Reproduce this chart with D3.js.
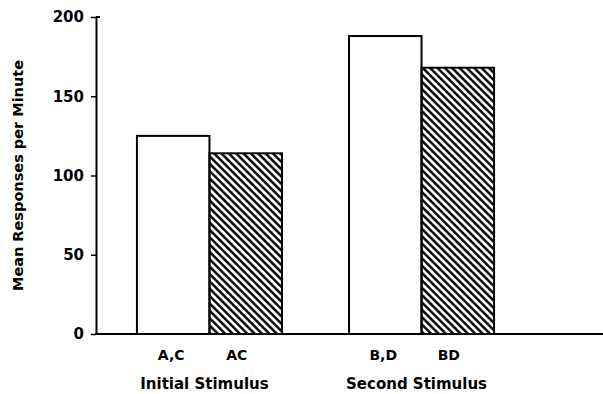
<!DOCTYPE html>
<html>
<head>
<meta charset="utf-8">
<script src="https://cdn.jsdelivr.net/npm/d3@7"></script>
<style>
  body { margin: 0; background: #fff; }
  svg { display: block; }
  text { font-family: "DejaVu Sans", sans-serif; font-weight: bold; fill: #000; }
</style>
</head>
<body>
<svg width="603" height="394"></svg>
<script>
// data
var groups = ["Initial Stimulus", "Second Stimulus"];
var barLabels = [["A,C", "AC"], ["B,D", "BD"]];
var separateValues = [125, 188];   // open bars
var compoundValues = [114, 168];   // hatched bars
var yTicks = [0, 50, 100, 150, 200];

var svg = d3.select("svg");
var margin = {top: 17, left: 96, bottom: 60, right: 0};
var y0 = 334;

var y = d3.scaleLinear()
    .domain([0, 200])
    .range([y0, margin.top]);

var x = d3.scaleBand()
    .domain(groups)
    .range([margin.left, 535])
    .paddingInner(0.316)
    .paddingOuter(0.193);

var xi = d3.scaleBand()
    .domain([0, 1])
    .range([0, x.bandwidth()]);

// hatch pattern
var defs = svg.append("defs");
defs.append("pattern")
    .attr("id", "hatch")
    .attr("patternUnits", "userSpaceOnUse")
    .attr("width", 5.2)
    .attr("height", 10)
    .attr("patternTransform", "rotate(-45)")
  .append("line")
    .attr("x1", 1.3).attr("y1", 0)
    .attr("x2", 1.3).attr("y2", 10)
    .attr("stroke", "#000")
    .attr("stroke-width", 2.4);

var data = [];
groups.forEach(function(g, i) {
    data.push({group: g, k: 0, value: separateValues[i], label: barLabels[i][0]});
    data.push({group: g, k: 1, value: compoundValues[i], label: barLabels[i][1]});
});

// bars
svg.selectAll("rect.bar")
    .data(data)
    .enter()
    .append("rect")
    .attr("class", "bar")
    .attr("x", function(d) { return x(d.group) + xi(d.k); })
    .attr("y", function(d) { return y(d.value); })
    .attr("width", xi.bandwidth())
    .attr("height", function(d) { return y(0) - y(d.value); })
    .attr("fill", function(d) { return d.k ? "url(#hatch)" : "#fff"; })
    .attr("stroke", "#000")
    .attr("stroke-width", 2);

// y axis
var yAxis = svg.append("g")
    .attr("transform", "translate(" + margin.left + ",0)")
    .call(d3.axisLeft(y).tickValues(yTicks).tickSize(5).tickSizeOuter(0).tickPadding(7));
yAxis.select(".domain").attr("stroke-width", 2);
yAxis.selectAll(".tick line").attr("stroke-width", 1.5);
yAxis.selectAll(".tick text")
    .style("font-size", "15px")
    .style("font-family", "DejaVu Sans, sans-serif")
    .style("font-weight", "bold");
// top tick turns to the right
yAxis.append("line")
    .attr("x1", 0).attr("x2", 4)
    .attr("y1", y(200)).attr("y2", y(200))
    .attr("stroke", "#000").attr("stroke-width", 2);

// x axis baseline
svg.append("line")
    .attr("x1", margin.left - 1).attr("x2", 603)
    .attr("y1", y(0)).attr("y2", y(0))
    .attr("stroke", "#000")
    .attr("stroke-width", 2);

// bar labels
svg.selectAll("text.barlabel")
    .data(data)
    .enter()
    .append("text")
    .attr("class", "barlabel")
    .attr("x", function(d) { return x(d.group) + xi(d.k) + xi.bandwidth() / 2 - (d.k ? 9 : 2); })
    .attr("y", 360)
    .attr("text-anchor", "middle")
    .style("font-size", "14px")
    .text(function(d) { return d.label; });

// group labels
svg.selectAll("text.grouplabel")
    .data(groups)
    .enter()
    .append("text")
    .attr("class", "grouplabel")
    .attr("x", function(d) { return x(d) + x.bandwidth() / 2 - 5; })
    .attr("y", 389)
    .attr("text-anchor", "middle")
    .style("font-size", "15px")
    .text(function(d) { return d; });

// y title
svg.append("text")
    .attr("transform", "translate(23," + ((y(0) + y(200)) / 2) + ") rotate(-90)")
    .attr("text-anchor", "middle")
    .style("font-size", "14.5px")
    .text("Mean Responses per Minute");
</script>
</body>
</html>
